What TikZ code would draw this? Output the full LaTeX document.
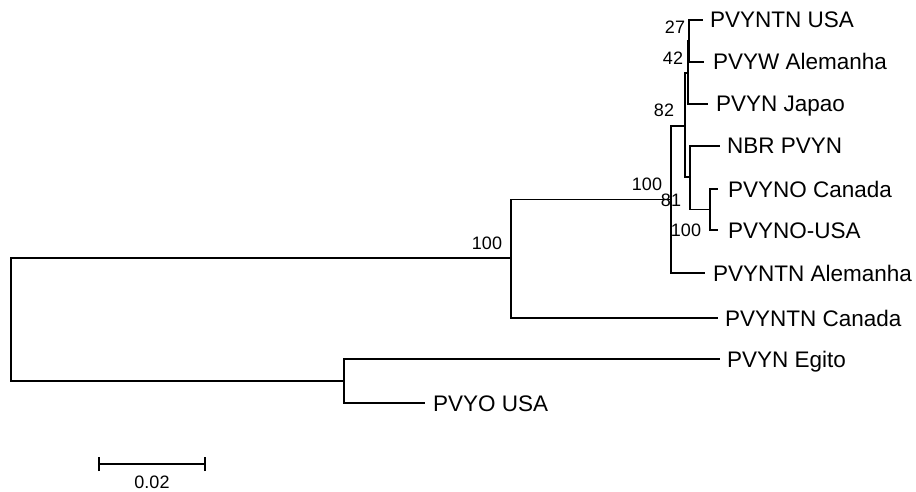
\documentclass[tikz,border=0pt]{standalone}
\usepackage{fontspec}
\setmainfont{Liberation Sans}
\begin{document}
\begin{tikzpicture}[x=1pt,y=-1pt,
  branch/.style={draw=black,line width=1.3pt},
  leaf/.style={anchor=base west,inner sep=0pt,font=\fontsize{22.5}{26}\selectfont},
  boot/.style={anchor=center,inner sep=0pt,font=\fontsize{18}{21}\selectfont}]
\useasboundingbox (0,0) rectangle (916,492);
% internal nodes
\coordinate (root) at (11,319);
\coordinate (nD) at (511,258);
\coordinate (nE) at (344,381);
\coordinate (nC) at (671,199.5);
\coordinate (nB) at (685,126);
\coordinate (nA) at (690,177);
\coordinate (nNO) at (710,209.5);
\coordinate (n42) at (688,73);
\coordinate (n27) at (689,41);
% leaf tips
\coordinate (t1) at (703,20);
\coordinate (t2) at (704,62);
\coordinate (t3) at (708,104);
\coordinate (t4) at (720,146);
\coordinate (t5) at (718,189);
\coordinate (t6) at (718,230);
\coordinate (t7) at (705,273);
\coordinate (t8) at (718,318);
\coordinate (t9) at (720,359);
\coordinate (t10) at (425,403);
% leaf labels
\node[leaf] (l1) at (710,28) {PVYNTN USA};
\node[leaf] (l2) at (713,70) {PVYW Alemanha};
\node[leaf] (l3) at (716,112) {PVYN Japao};
\node[leaf] (l4) at (727,154) {NBR PVYN};
\node[leaf] (l5) at (728,197) {PVYNO Canada};
\node[leaf] (l6) at (728,238) {PVYNO-USA};
\node[leaf] (l7) at (713,281) {PVYNTN Alemanha};
\node[leaf] (l8) at (725,326) {PVYNTN Canada};
\node[leaf] (l9) at (727,367) {PVYN Egito};
\node[leaf] (l10) at (433,411) {PVYO USA};
% branches
\draw[branch] (root) |- (nD);
\draw[branch] (root) |- (nE);
\draw[branch] (nD) |- (nC);
\draw[branch] (nD) |- (t8);
\draw[branch] (nE) |- (t9);
\draw[branch] (nE) |- (t10);
\draw[branch] (nC) |- (nB);
\draw[branch] (nC) |- (t7);
\draw[branch] (nB) |- (n42);
\draw[branch] (nB) |- (nA);
\draw[branch] (n42) |- (n27);
\draw[branch] (n42) |- (t3);
\draw[branch] (n27) |- (t1);
\draw[branch] (n27) |- (t2);
\draw[branch] (nA) |- (t4);
\draw[branch] (nA) |- (nNO);
\draw[branch] (nNO) |- (t5);
\draw[branch] (nNO) |- (t6);
% bootstrap values
\node[boot] (b27) at (675,27) {27};
\node[boot] (b42) at (673,58) {42};
\node[boot] (b82) at (664,110) {82};
\node[boot] (b100c) at (647,184) {100};
\node[boot] (b81) at (671,200) {81};
\node[boot] (b100no) at (686,230) {100};
\node[boot] (b100d) at (487,243) {100};
% scale bar
\coordinate (sbL) at (99,464);
\coordinate (sbR) at (205,464);
\draw[branch] (sbL) -- (sbR);
\draw[branch] ([yshift=-7pt]sbL) -- ([yshift=7pt]sbL);
\draw[branch] ([yshift=-7pt]sbR) -- ([yshift=7pt]sbR);
\node[boot] (sbt) at (152,482.5) {0.02};
\end{tikzpicture}
\end{document}
